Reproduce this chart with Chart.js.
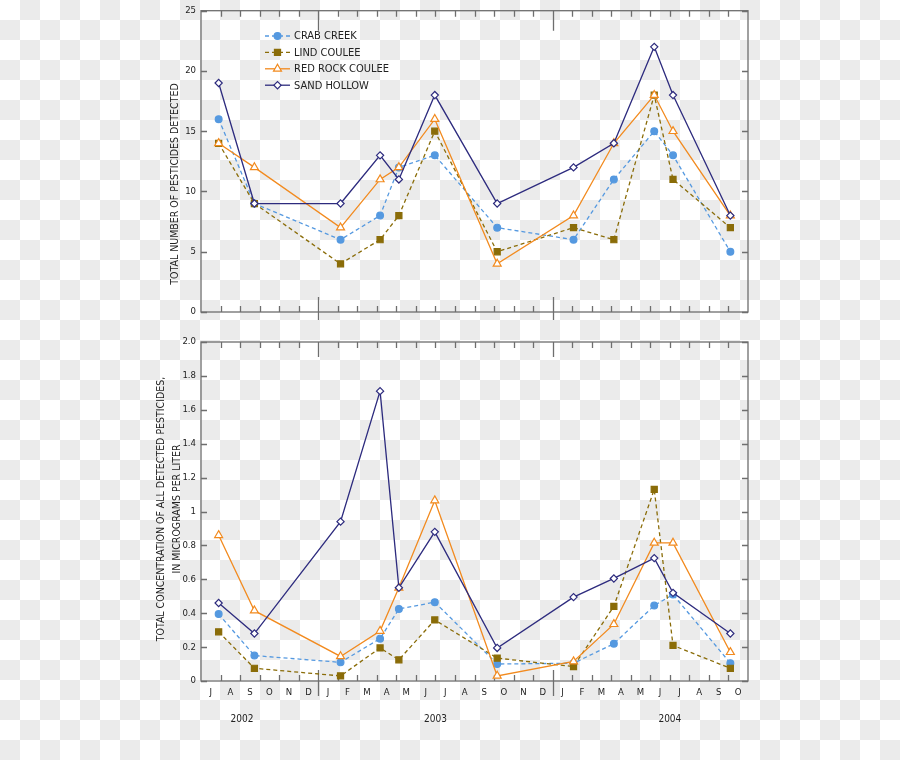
<!DOCTYPE html>
<html>
<head>
<meta charset="utf-8">
<script src="https://cdn.jsdelivr.net/npm/chart.js@4.4.1/dist/chart.umd.min.js"></script>
<style>
  body {
    margin: 0;
    background-color: #fff;
    background-image: conic-gradient(#ebebeb 25%, transparent 0 50%, #ebebeb 0 75%, transparent 0);
    background-size: 40px 40px;
  }
  #wrap { position: relative; width: 900px; height: 760px; overflow: hidden; }
  canvas { position: absolute; left: 0; }
  .ytitle {
    position: absolute;
    width: 340px;
    text-align: center;
    transform: rotate(-90deg);
    font-family: 'Liberation Sans Narrow', 'DejaVu Sans Condensed', sans-serif;
    font-size: 10.5px;
    line-height: 16px;
    color: #222;
    white-space: nowrap;
  }
</style>
</head>
<body>
<div id="wrap">
  <canvas id="countChart" width="900" height="330" style="top:0"></canvas>
  <canvas id="concChart" width="900" height="430" style="top:330px"></canvas>
  <div class="ytitle" style="left:4px; top:176px;">TOTAL NUMBER OF PESTICIDES DETECTED</div>
  <div class="ytitle" style="left:-2px; top:493px;">TOTAL CONCENTRATION OF ALL DETECTED PESTICIDES,<br>IN MICROGRAMS PER LITER</div>
</div>
<script>
// sampling dates (same for every site)
const sampleDates = ['2002-07-29', '2002-09-23', '2003-02-05', '2003-04-06', '2003-05-05', '2003-06-30',
  '2003-10-06', '2004-02-03', '2004-04-05', '2004-06-07', '2004-07-06', '2004-10-04'];

// x axis: months from July 2002 to October 2004
const monthLabels = ['J', 'A', 'S', 'O', 'N', 'D', 'J', 'F', 'M', 'A', 'M', 'J', 'J', 'A',
  'S', 'O', 'N', 'D', 'J', 'F', 'M', 'A', 'M', 'J', 'J', 'A', 'S', 'O'];
const yearLabels = ['2002', '2003', '2004'];

const seriesNames = ['CRAB CREEK', 'LIND COULEE', 'RED ROCK COULEE', 'SAND HOLLOW'];

// total number of pesticides detected
const crabCount = [16, 9, 6, 8, 12, 13, 7, 6, 11, 15, 13, 5];
const lindCount = [14, 9, 4, 6, 8, 15, 5, 7, 6, 18, 11, 7];
const redRockCount = [14, 12, 7, 11, 12, 16, 4, 8, 14, 18, 15, 8];
const sandCount = [19, 9, 9, 13, 11, 18, 9, 12, 14, 22, 18, 8];

// total concentration, micrograms per liter
const crabConc = [0.395, 0.15, 0.11, 0.25, 0.425, 0.465, 0.10, 0.105, 0.22, 0.445, 0.51, 0.105];
const lindConc = [0.29, 0.075, 0.03, 0.195, 0.125, 0.36, 0.135, 0.085, 0.44, 1.13, 0.21, 0.075];
const redRockConc = [0.86, 0.415, 0.145, 0.295, 0.55, 1.065, 0.03, 0.115, 0.335, 0.815, 0.815, 0.17];
const sandConc = [0.46, 0.28, 0.94, 1.71, 0.55, 0.88, 0.195, 0.495, 0.605, 0.725, 0.52, 0.28];

const countTicks = [0, 5, 10, 15, 20, 25];
const concTicks = ['0', '0.2', '0.4', '0.6', '0.8', '1', '1.2', '1.4', '1.6', '1.8', '2.0'];

const START_YEAR = 2002, START_MONTH = 7;
const FONT = "'Liberation Sans Narrow', 'DejaVu Sans Condensed', sans-serif";
const AXIS = '#6e6e6e';

const styles = [
  { color: '#5599e0', dash: [4, 3], point: 'circle', radius: 3.4, fill: '#5599e0' },
  { color: '#8a6c08', dash: [4, 3], point: 'rect', radius: 4.3, fill: '#8a6c08' },
  { color: '#f28a1e', dash: [], point: 'triangle', radius: 4.6, fill: '#ffffff' },
  { color: '#2d2b7e', dash: [], point: 'rectRot', radius: 3.6, fill: '#ffffff' }
];

// fractional months since 1 July 2002
function monthOffset(d) {
  const [y, m, day] = d.split('-').map(Number);
  const dim = new Date(y, m, 0).getDate();
  return (y - START_YEAR) * 12 + (m - START_MONTH) + (day - 1) / dim;
}
const xs = sampleDates.map(monthOffset);

function buildDatasets(seriesList) {
  return seriesList.map((vals, i) => {
    const s = styles[i];
    return {
      label: seriesNames[i],
      data: vals.map((v, j) => ({ x: xs[j], y: v })),
      borderColor: s.color,
      borderWidth: 1.3,
      borderDash: s.dash,
      pointStyle: s.point,
      pointRadius: s.radius,
      pointBackgroundColor: s.fill,
      pointBorderColor: s.color,
      pointBorderWidth: 1.2,
      tension: 0,
      clip: false,
      order: 3 - i
    };
  });
}

// box, inward month ticks and y ticks
const framePlugin = {
  id: 'frame',
  beforeDatasetsDraw(chart, args, opts) {
    const { ctx, chartArea: a, scales } = chart;
    ctx.save();
    ctx.strokeStyle = AXIS;
    ctx.lineWidth = 1.3;
    ctx.strokeRect(a.left, a.top, a.right - a.left, a.bottom - a.top);
    ctx.beginPath();
    for (let m = 1; m < monthLabels.length; m++) {
      const px = Math.round(scales.x.getPixelForValue(m)) + 0.5;
      const jan = (START_MONTH - 1 + m) % 12 === 0;
      if (jan) {
        ctx.moveTo(px, a.top); ctx.lineTo(px, a.top + opts.janTop);
        ctx.moveTo(px, a.bottom - opts.janUp); ctx.lineTo(px, a.bottom + opts.janDown);
      } else {
        ctx.moveTo(px, a.top); ctx.lineTo(px, a.top + 6);
        ctx.moveTo(px, a.bottom); ctx.lineTo(px, a.bottom - 6);
      }
    }
    scales.y.ticks.forEach(t => {
      const py = Math.round(scales.y.getPixelForValue(t.value)) + 0.5;
      ctx.moveTo(a.left, py); ctx.lineTo(a.left + 6, py);
      ctx.moveTo(a.right, py); ctx.lineTo(a.right - 6, py);
    });
    ctx.stroke();
    ctx.restore();
  }
};

// legend with line + marker, drawn inside the upper panel
const keyPlugin = {
  id: 'seriesKey',
  afterDraw(chart, args, opts) {
    if (!opts.show) return;
    const ctx = chart.ctx;
    ctx.save();
    chart.data.datasets.forEach((ds, i) => {
      const y = 36 + i * 16.4;
      ctx.strokeStyle = ds.borderColor;
      ctx.lineWidth = 1.3;
      ctx.setLineDash(ds.borderDash);
      ctx.beginPath();
      ctx.moveTo(265, y); ctx.lineTo(290, y);
      ctx.stroke();
      ctx.setLineDash([]);
      ctx.fillStyle = ds.pointBackgroundColor;
      ctx.lineWidth = ds.pointBorderWidth;
      Chart.helpers.drawPoint(ctx, { pointStyle: ds.pointStyle, radius: ds.pointRadius, rotation: 0, borderWidth: ds.pointBorderWidth }, 277.5, y);
      ctx.fillStyle = '#222';
      ctx.font = '11px ' + FONT;
      ctx.textBaseline = 'middle';
      ctx.fillText(ds.label, 294, y + 0.5);
    });
    ctx.restore();
  }
};

// year captions under the month labels
const yearPlugin = {
  id: 'years',
  afterDraw(chart, args, opts) {
    if (!opts.show) return;
    const { ctx, scales, chartArea: a } = chart;
    ctx.save();
    ctx.fillStyle = '#222';
    ctx.font = '10px ' + FONT;
    ctx.textAlign = 'center';
    ctx.textBaseline = 'middle';
    [2.1, 12, 24].forEach((pos, i) => {
      ctx.fillText(yearLabels[i], scales.x.getPixelForValue(pos), a.bottom + 38);
    });
    ctx.restore();
  }
};

function makeChart(id, seriesList, yMax, tickValues, tickText, pad, frameOpts, isBottom) {
  return new Chart(document.getElementById(id), {
    type: 'line',
    data: { datasets: buildDatasets(seriesList) },
    plugins: [framePlugin, keyPlugin, yearPlugin],
    options: {
      responsive: false,
      animation: false,
      events: [],
      layout: { padding: pad },
      scales: {
        x: {
          type: 'linear',
          min: 0,
          max: monthLabels.length,
          display: isBottom,
          grid: { display: false, drawTicks: false },
          border: { display: false },
          afterBuildTicks: s => { s.ticks = monthLabels.map((m, i) => ({ value: i + 0.5 })); },
          afterFit: s => { s.height = isBottom ? 79 : 0; },
          ticks: {
            autoSkip: false,
            maxRotation: 0,
            padding: 6,
            color: '#222',
            font: { family: FONT, size: 9.5 },
            callback: (v, i) => monthLabels[i]
          }
        },
        y: {
          min: 0,
          max: yMax,
          grid: { display: false, drawTicks: false },
          border: { display: false },
          afterBuildTicks: s => { s.ticks = tickValues.map(v => ({ value: v })); },
          afterFit: s => { s.width = 201; },
          ticks: {
            padding: 5,
            color: '#222',
            font: { family: FONT, size: 9.5 },
            callback: (v, i) => tickText[i]
          }
        }
      },
      plugins: {
        legend: { display: false },
        tooltip: { enabled: false },
        frame: frameOpts,
        seriesKey: { show: !isBottom },
        years: { show: isBottom }
      }
    }
  });
}

makeChart('countChart', [crabCount, lindCount, redRockCount, sandCount], 25,
  countTicks, countTicks.map(String),
  { left: 0, right: 152, top: 7, bottom: 18 },
  { janTop: 20, janUp: 15, janDown: 8 }, false);

makeChart('concChart', [crabConc, lindConc, redRockConc, sandConc], 2,
  concTicks.map((t, i) => i * 0.2), concTicks,
  { left: 0, right: 152, top: 12, bottom: 0 },
  { janTop: 15, janUp: 11, janDown: 15 }, true);
</script>
</body>
</html>
